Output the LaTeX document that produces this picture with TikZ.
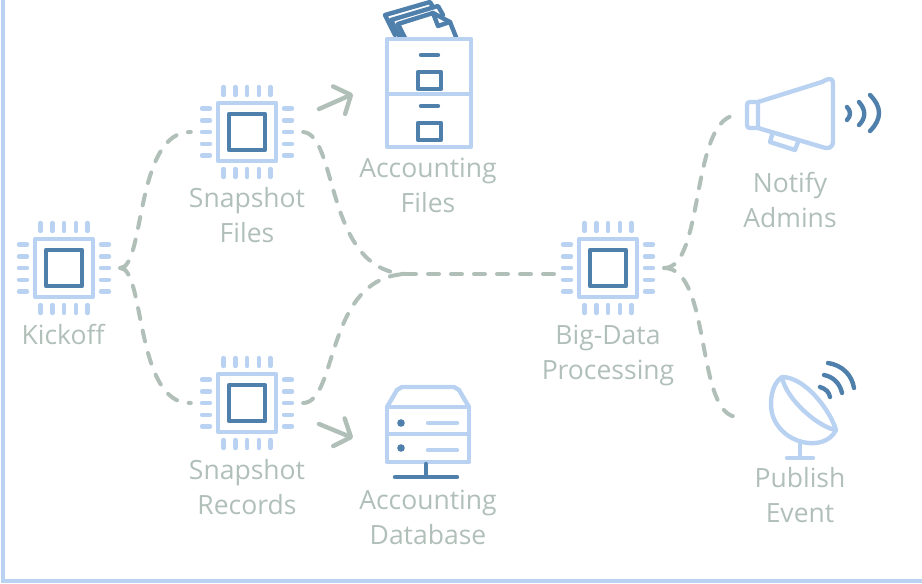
\documentclass[tikz,border=0pt]{standalone}
\usepackage{fontspec}
\setmainfont{Open Sans}
\usetikzlibrary{arrows.meta}
\definecolor{iconlight}{HTML}{B9D2F1}
\definecolor{icondark}{HTML}{4F7FAB}
\definecolor{flowgray}{HTML}{B1BFB9}
\tikzset{
	light/.style={draw=iconlight, line width=4.4pt, line join=round, line cap=round},
	dark/.style={draw=icondark, line width=4.4pt, line join=round, line cap=round},
	flow/.style={draw=flowgray, line width=4pt, line cap=round, dash pattern=on 11pt off 12pt},
	openarrow/.style={draw=flowgray, line width=4.4pt, line cap=round, -{Straight Barb[length=13pt, width=30pt, round]}},
	caption/.style={text=flowgray, font=\fontsize{26.5}{35}\selectfont, align=center},
	chiparea/.style={minimum size=112pt, inner sep=0pt}
}
\def\chipicon(#1,#2)#3{
	\begin{scope}[shift={(#1,#2)}]
		\draw[light] (-29, -29) rectangle (29, 29);
		\draw[dark] (-18, -18) rectangle (18, 18);
		\foreach \p in {-23.4, -11.7, 0, 11.7, 23.4} {
			\draw[light] (\p, -45) -- (\p, -37);
			\draw[light] (\p, 37) -- (\p, 45);
			\draw[light] (-45, \p) -- (-37, \p);
			\draw[light] (37, \p) -- (45, \p);
		}
		\node[chiparea] (#3) at (0, 0) {};
	\end{scope}
}

\begin{document}
\begin{tikzpicture}[x=1pt, y=-1pt]
	\useasboundingbox (0, 0) rectangle (922, 584);

	%%%%% frame %%%%%
	\draw[iconlight, line width=4pt] (3, 0) -- (3, 581) -- (922, 581);

	%%%%% chips %%%%%
	\chipicon(64,268){kickoff}
	\chipicon(247,132){snapfiles}
	\chipicon(247,403){snaprecords}
	\chipicon(608,268){bigdata}

	%%%%% free ends %%%%%
	\coordinate (merge) at (405, 274);
	\coordinate (notify) at (738, 115);
	\coordinate (publish) at (738, 417);
	\coordinate (filesfrom) at (319, 109);
	\coordinate (filesto) at (353, 94);
	\coordinate (dbfrom) at (319, 424);
	\coordinate (dbto) at (353, 438);

	%%%%% connectors %%%%%
	\draw[flow] (kickoff.east) .. controls (145, 268) and (135, 131) .. (snapfiles.west);
	\draw[flow] (kickoff.east) .. controls (145, 268) and (135, 405) .. (snaprecords.west);
	\draw[flow] (snapfiles.east) .. controls (338, 135) and (325, 270) .. (merge);
	\draw[flow] (snaprecords.east) .. controls (338, 402) and (325, 278) .. (merge);
	\draw[flow, shorten >=-7pt] (merge) -- (merge -| bigdata.west);
	\draw[flow] (bigdata.east) .. controls (705, 268) and (690, 115) .. (notify);
	\draw[flow] (bigdata.east) .. controls (712, 268) and (695, 417) .. (publish);
	\draw[openarrow] (filesfrom) -- (filesto);
	\draw[openarrow] (dbfrom) -- (dbto);

	%%%%% cabinet %%%%%
	\draw[dark] (395, 35) -- (385, 15) -- (430, 2) -- (433, 7);
	\draw[dark] (400, 37) -- (391, 20) -- (438, 6) -- (443, 15);
	\draw[dark] (405, 38) -- (398, 24) -- (433, 13) -- (450, 22) -- (456, 37);
	\draw[dark] (433, 13) -- (438, 26) -- (450, 22);
	\draw[light] (387, 39) rectangle (471, 147);
	\draw[light] (387, 94) -- (471, 94);
	\draw[dark] (421, 55) -- (438, 55);
	\draw[dark] (418, 72) rectangle (441, 89);
	\draw[dark] (421, 106) -- (438, 106);
	\draw[dark] (418, 123) rectangle (441, 140);

	%%%%% database %%%%%
	\draw[light] (387, 407) -- (397, 390) -- (402, 387) -- (454, 387) -- (459, 390) -- (469, 407);
	\draw[light] (387, 407) rectangle (469, 462);
	\draw[light] (387, 434) -- (469, 434);
	\fill[icondark] (401, 423) circle (3.8);
	\fill[icondark] (401, 448) circle (3.8);
	\draw[light] (428, 423) -- (457, 423);
	\draw[light] (428, 450) -- (457, 450);
	\draw[dark] (426, 464) -- (426, 477);
	\draw[dark] (395, 477) -- (457, 477);

	%%%%% megaphone %%%%%
	\draw[light] (758, 102) -- (822, 82) .. controls (827, 79) and (833, 76) .. (833, 84) -- (833, 141) .. controls (833, 149) and (827, 149) .. (822, 147) -- (758, 128) -- cycle;
	\draw[light] (758, 102) -- (750, 102) .. controls (748, 102) and (747, 103) .. (747, 105) -- (747, 125) .. controls (747, 127) and (748, 128) .. (750, 128) -- (758, 128);
	\draw[light] (772, 135) -- (770, 142) -- (795, 150) -- (798, 142);
	\draw[dark] (847, 107) .. controls (851, 111) and (851, 116) .. (847, 120);
	\draw[dark] (859, 102) .. controls (866, 110) and (866, 118) .. (859, 125);
	\draw[dark] (870, 95) .. controls (882, 107) and (882, 119) .. (870, 131);

	%%%%% dish %%%%%
	\draw[light] (782, 377) .. controls (805, 377) and (830, 410) .. (836, 430) .. controls (820, 428) and (786, 400) .. (782, 377) .. controls (770, 385) and (770, 405) .. (772, 413) .. controls (780, 445) and (825, 453) .. (836, 430);
	\draw[light] (800, 444) -- (800, 458);
	\draw[light] (787, 458) -- (813, 458);
	\draw[dark] (820, 387) .. controls (826, 389) and (829, 392) .. (830, 397);
	\draw[dark] (824, 375) .. controls (834, 377) and (840, 384) .. (842, 393);
	\draw[dark] (828, 363) .. controls (842, 365) and (852, 375) .. (854, 388);

	%%%%% captions %%%%%
	\node[caption] (kickofftext) at (63, 334) {Kickoff};
	\node[caption] (snapfilestext) at (247, 215) {Snapshot\\Files};
	\node[caption] (snaprecordstext) at (247, 487) {Snapshot\\Records};
	\node[caption] (accfilestext) at (428, 185) {Accounting\\Files};
	\node[caption] (accdbtext) at (428, 517) {Accounting\\Database};
	\node[caption] (bigdatatext) at (608, 355) {Big-Data\\Processing};
	\node[caption] (notifytext) at (790, 200) {Notify\\Admins};
	\node[caption] (publishtext) at (800, 495) {Publish\\Event};
\end{tikzpicture}
\end{document}
